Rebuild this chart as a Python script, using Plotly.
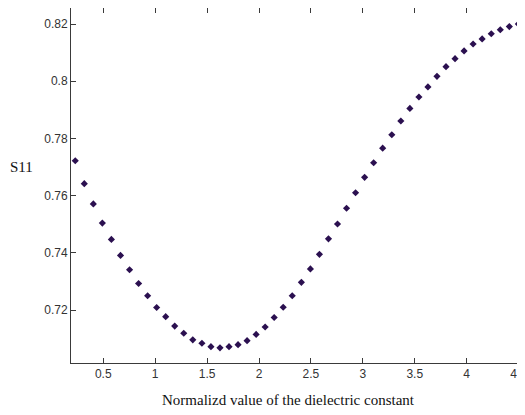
import plotly.graph_objects as go

# Data
x_vals = [0.230, 0.317, 0.404, 0.491, 0.578, 0.666, 0.753, 0.840, 0.927, 1.014,
          1.101, 1.188, 1.275, 1.362, 1.450, 1.537, 1.624, 1.711, 1.798, 1.885,
          1.972, 2.059, 2.146, 2.233, 2.320, 2.408, 2.495, 2.582, 2.669, 2.756,
          2.843, 2.930, 3.017, 3.104, 3.191, 3.279, 3.366, 3.453, 3.540, 3.627,
          3.714, 3.801, 3.888, 3.975, 4.062, 4.149, 4.237, 4.324, 4.411, 4.498]
s11_vals = [0.7722, 0.7642, 0.7571, 0.7504, 0.7447, 0.7391, 0.7341, 0.7293, 0.7250, 0.7209,
            0.7177, 0.7144, 0.7119, 0.7096, 0.7084, 0.7072, 0.7068, 0.7072, 0.7079, 0.7093,
            0.7115, 0.7141, 0.7174, 0.7210, 0.7250, 0.7297, 0.7344, 0.7395, 0.7449, 0.7501,
            0.7556, 0.7610, 0.7664, 0.7715, 0.7766, 0.7813, 0.7861, 0.7905, 0.7945, 0.7980,
            0.8017, 0.8051, 0.8079, 0.8106, 0.8130, 0.8148, 0.8166, 0.8180, 0.8191, 0.8200]

x_ticks = [0.5, 1, 1.5, 2, 2.5, 3, 3.5, 4, 4.5]
x_tick_text = ["0.5", "1", "1.5", "2", "2.5", "3", "3.5", "4", "4.5"]
y_ticks = [0.72, 0.74, 0.76, 0.78, 0.80, 0.82]
y_tick_text = ["0.72", "0.74", "0.76", "0.78", "0.8", "0.82"]

x_title = "Normalizd value of the dielectric constant"
y_title = "S11"

fig = go.Figure()
fig.add_trace(go.Scatter(
    x=x_vals, y=s11_vals, mode="markers",
    marker=dict(symbol="diamond", size=5.5, color="#2b1050"),
    showlegend=False, cliponaxis=False,
))

axis_common = dict(
    showgrid=False, zeroline=False, automargin=False,
    showline=True, linecolor="#3a3a3a", linewidth=1,
    mirror="ticks", ticks="inside", ticklen=5, tickcolor="#3a3a3a",
    tickfont=dict(family="Liberation Sans, Arial, sans-serif", size=12, color="#333333"),
)

serif = "Liberation Serif, Times New Roman, serif"

# The page body adds an 8px offset, so margins are shifted to compensate.
fig.update_layout(
    width=525, height=415,
    margin=dict(l=63, r=11, t=0, b=60),
    paper_bgcolor="white", plot_bgcolor="white",
    xaxis=dict(range=[0.189, 4.533], tickvals=x_ticks, ticktext=x_tick_text, **axis_common),
    yaxis=dict(range=[0.7015, 0.8256], tickvals=y_ticks, ticktext=y_tick_text, **axis_common),
    annotations=[
        dict(text=x_title, xref="paper", yref="paper", x=0.482, y=-0.104,
             xanchor="center", yanchor="middle", showarrow=False,
             font=dict(family=serif, size=15, color="#111111")),
        dict(text=y_title, xref="paper", yref="paper", x=-0.109, y=0.552,
             xanchor="center", yanchor="middle", showarrow=False,
             font=dict(family=serif, size=15, color="#111111")),
    ],
)

fig.write_html("out.html")
